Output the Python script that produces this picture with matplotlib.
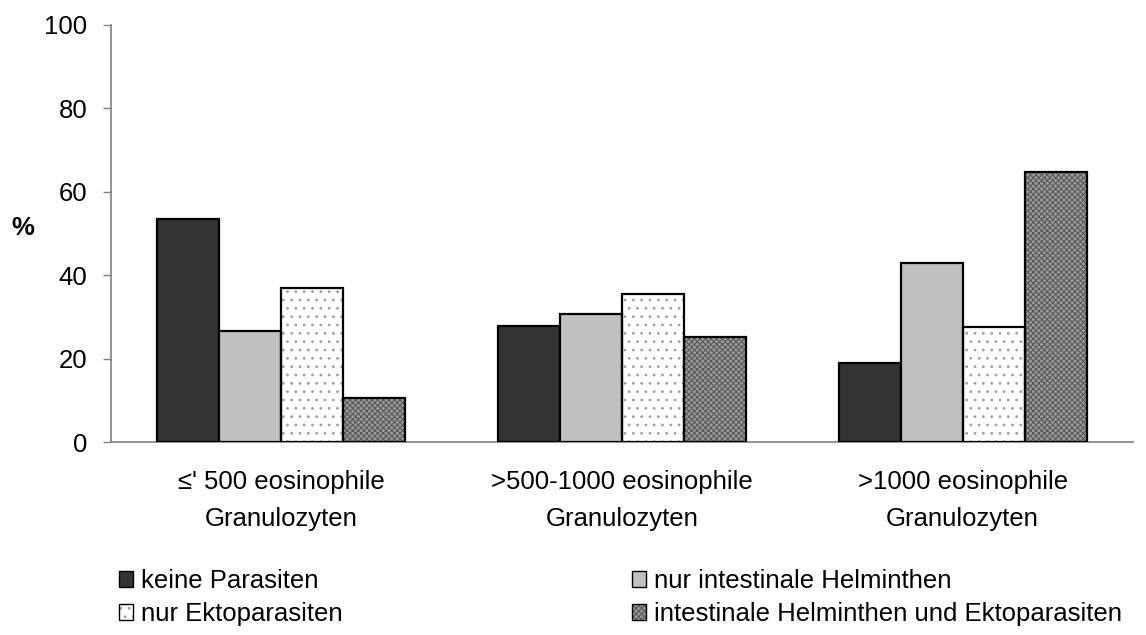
import numpy as np
import matplotlib.pyplot as plt
from matplotlib.patches import Patch
from matplotlib.legend_handler import HandlerTuple

plt.rcParams['font.family'] = ['Liberation Sans', 'DejaVu Sans']
plt.rcParams['hatch.linewidth'] = 0.8

groups = ['\u2264\' 500 eosinophile\nGranulozyten',
          '>500-1000 eosinophile\nGranulozyten',
          '>1000 eosinophile\nGranulozyten']
series = ['keine Parasiten', 'nur intestinale Helminthen',
          'nur Ektoparasiten', 'intestinale Helminthen und Ektoparasiten']
keine = [53.5, 27.8, 19.0]
nur_helminthen = [26.5, 30.7, 43.0]
nur_ekto = [36.9, 35.5, 27.6]
beide = [10.6, 25.2, 64.7]
yticks = [0, 20, 40, 60, 80, 100]

# face colour, hatch pattern, hatch colour for each series
styles = [('#333333', None, None),
          ('#c0c0c0', None, None),
          ('white', '..', '#a0a0a0'),
          ('#9a9a9a', 'xxxxxx', '#5a5a5a')]

fig = plt.figure(figsize=(11.46, 6.35), dpi=100)
ax = fig.add_axes([111 / 1146, 1 - 442 / 635, (1133 - 111) / 1146, (442 - 25) / 635])

x = np.arange(len(groups))
width = 0.182
handles = []
for i, (vals, (fc, hatch, hc)) in enumerate(zip([keine, nur_helminthen, nur_ekto, beide], styles)):
    pos = x + (i - 1.5) * width
    if hatch:
        ax.bar(pos, vals, width, color=fc, hatch=hatch, edgecolor=hc, linewidth=0, zorder=2)
    ax.bar(pos, vals, width, color=fc if not hatch else 'none', edgecolor='black',
           linewidth=1.6, zorder=3)
    fill = Patch(facecolor=fc, hatch=hatch, edgecolor=hc if hatch else fc, linewidth=0)
    edge = Patch(facecolor='none', edgecolor='black', linewidth=1.0)
    handles.append((fill, edge))

fs = 18.5
ax.set_xlim(-0.5, 2.5)
ax.set_ylim(0, 100)
ax.set_yticks(yticks)
ax.set_xticks(x)
ax.set_xticklabels(groups, fontsize=fs, linespacing=1.7)
ax.tick_params(axis='x', length=0, pad=20)
ax.tick_params(axis='y', labelsize=fs, length=6, width=1, color='#808080', pad=11)
for side in ('top', 'right'):
    ax.spines[side].set_visible(False)
for side in ('left', 'bottom'):
    ax.spines[side].set_color('#808080')
    ax.spines[side].set_linewidth(1.2)
ax.set_ylabel('%', fontsize=fs, fontweight='bold', rotation=0, va='center', ha='center')
ax.yaxis.set_label_coords(-0.086, 0.513)

# legend order: row-wise across two columns
order = [0, 2, 1, 3]
leg = fig.legend([handles[k] for k in order], [series[k] for k in order],
                 handler_map={tuple: HandlerTuple(ndivide=1, pad=0)},
                 ncol=2, loc='upper left', bbox_to_anchor=(119 / 1146, 1 - 569 / 635),
                 frameon=False, fontsize=fs, handlelength=0.55, handleheight=0.55,
                 handletextpad=0.3, columnspacing=11.28, labelspacing=0.35,
                 borderaxespad=0, borderpad=0)

fig.savefig('out.png', dpi=100)
